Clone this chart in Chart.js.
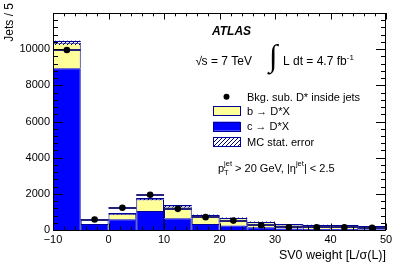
<!DOCTYPE html>
<html><head><meta charset="utf-8">
<script src="https://cdn.jsdelivr.net/npm/chart.js@4.4.1/dist/chart.umd.min.js"></script>
<style>html,body{margin:0;padding:0;background:#fff;}#wrap{width:407px;height:276px;}</style>
</head><body><div id="wrap"><canvas id="c" width="407" height="276"></canvas></div>
<script>
// ---- data ----
const binCenters = [-7.5, -2.5, 2.5, 7.5, 12.5, 17.5, 22.5, 27.5, 32.5, 37.5, 42.5, 47.5];
const binWidth = 5;
const cJets = [8950, 330, 600, 1050, 650, 330, 250, 150, 80, 60, 50, 45];      // c -> D*X
const bJets = [1400, 230, 300, 650, 650, 470, 400, 280, 220, 200, 180, 145];   // b -> D*X
const mcStatErr = [120, 40, 40, 50, 60, 50, 40, 35, 30, 30, 30, 30];
const dataPoints = [9950, 580, 1230, 1950, 1170, 710, 520, 265, 155, 155, 150, 120];
const dataErr = [150, 60, 70, 80, 70, 60, 50, 40, 35, 30, 30, 25];
const xTicks = [-10, 0, 10, 20, 30, 40, 50];
const yTicks = [0, 2000, 4000, 6000, 8000, 10000];
const xRange = [-10, 50];
const yRange = [0, 12000];

const FONT = '"Liberation Sans", Arial, Helvetica, sans-serif';
const NAVY = '#000099';
const YELLOW = '#ffff99';
const BLUE = '#0000ff';

function makeHatch(ctx) {
  const c = document.createElement('canvas'); c.width = 4; c.height = 4;
  const g = c.getContext('2d'); g.fillStyle = '#000080';
  for (let i = 0; i < 4; i++) g.fillRect(i, 3 - i, 1, 1);
  return ctx.createPattern(c, 'repeat');
}

function drawParts(ctx, parts, x, y) {
  let cx = x;
  let lastX = x;
  for (const p of parts) {
    ctx.font = (p.style || '') + ' ' + p.size + 'px ' + FONT;
    const px = p.same ? lastX : cx;
    ctx.fillText(p.t, px, y + (p.dy || 0));
    const w = ctx.measureText(p.t).width;
    if (!p.same) { lastX = cx; cx += w; } else { cx = Math.max(cx, px + w); }
  }
  return cx;
}

const histPlugin = {
  id: 'hist',
  afterDatasetDraw(chart, args) {
    if (args.index !== 0) return;
    const { ctx, chartArea: a, scales: { x, y } } = chart;
    ctx.save();
    ctx.beginPath(); ctx.rect(a.left, a.top, a.right - a.left, a.bottom - a.top); ctx.clip();
    const pat = makeHatch(ctx);
    binCenters.forEach((c, i) => {
      const x0 = x.getPixelForValue(c - binWidth / 2), x1 = x.getPixelForValue(c + binWidth / 2);
      const tot = cJets[i] + bJets[i];
      const yt = y.getPixelForValue(tot + mcStatErr[i]), yb = y.getPixelForValue(tot - mcStatErr[i]);
      ctx.fillStyle = pat; ctx.fillRect(x0, yt, x1 - x0, yb - yt);
      ctx.strokeStyle = NAVY; ctx.lineWidth = 1;
      ctx.beginPath(); ctx.moveTo(x0, Math.round(yt) + 0.5); ctx.lineTo(x1, Math.round(yt) + 0.5); ctx.stroke();
    });
    binCenters.forEach((c, i) => {
      const x0 = x.getPixelForValue(c - binWidth / 2), x1 = x.getPixelForValue(c + binWidth / 2);
      const yd = Math.round(y.getPixelForValue(dataPoints[i]));
      ctx.strokeStyle = '#22227a'; ctx.lineWidth = 2;
      ctx.beginPath(); ctx.moveTo(x0, yd); ctx.lineTo(x1, yd); ctx.stroke();
      const xc = Math.round(x.getPixelForValue(c)) + 0.5;
      ctx.strokeStyle = '#000'; ctx.lineWidth = 1;
      ctx.beginPath();
      ctx.moveTo(xc, y.getPixelForValue(dataPoints[i] - dataErr[i]));
      ctx.lineTo(xc, y.getPixelForValue(dataPoints[i] + dataErr[i]));
      ctx.stroke();
    });
    ctx.restore();
  },
  afterDraw(chart) {
    const { ctx, chartArea: a, scales: { x, y } } = chart;
    ctx.save();
    // frame
    ctx.strokeStyle = '#000'; ctx.lineWidth = 1;
    ctx.strokeRect(Math.round(a.left) + 0.5, Math.round(a.top) + 0.5,
      Math.round(a.right - a.left) - 1, Math.round(a.bottom - a.top));
    // ticks pointing inward on all four sides
    ctx.beginPath();
    for (let v = xRange[0]; v <= xRange[1]; v += 2) {
      const px = Math.round(x.getPixelForValue(v)) + 0.5;
      const len = (v % 10 === 0) ? 6.5 : 3.3;
      ctx.moveTo(px, a.bottom); ctx.lineTo(px, a.bottom - len);
      ctx.moveTo(px, a.top); ctx.lineTo(px, a.top + len);
    }
    for (let v = yRange[0]; v <= yRange[1]; v += 400) {
      const py = Math.round(y.getPixelForValue(v)) + 0.5;
      const len = (v % 2000 === 0) ? 10 : 5;
      ctx.moveTo(a.left, py); ctx.lineTo(a.left + len, py);
      ctx.moveTo(a.right, py); ctx.lineTo(a.right - len, py);
    }
    ctx.stroke();

    ctx.fillStyle = '#000';
    ctx.textBaseline = 'alphabetic'; ctx.textAlign = 'left';
    // axis titles
    ctx.font = '12.5px ' + FONT;
    ctx.textAlign = 'right';
    ctx.fillText('SV0 weight [L/\u03c3(L)]', 386, 259);
    ctx.font = '12px ' + FONT;
    ctx.save();
    ctx.translate(13, 3); ctx.rotate(-Math.PI / 2);
    ctx.fillText('Jets / 5', 0, 0);
    ctx.restore();
    ctx.textAlign = 'left';

    // ATLAS
    ctx.font = 'italic bold 12px ' + FONT;
    ctx.fillText('ATLAS', 212, 35);
    // sqrt s
    ctx.font = '12px ' + FONT;
    const rx = 195.5;
    ctx.fillText('\u221a', rx, 65);
    const wr = ctx.measureText('\u221a').width;
    ctx.fillText('s = 7 TeV', rx + wr - 0.5, 65);
    // integral
    ctx.font = '31px "Liberation Serif", "DejaVu Serif", serif';
    ctx.textBaseline = 'middle';
    ctx.fillText('\u222b', 269, 58);
    ctx.textBaseline = 'alphabetic';
    drawParts(ctx, [
      { t: 'L dt = 4.7 fb', size: 12 },
      { t: '-1', size: 8, dy: -5 }
    ], 283, 65);

    // legend
    const lx = 213, lw = 27, lh = 9, tx = 247;
    ctx.beginPath(); ctx.arc(226.5, 96.7, 3, 0, Math.PI * 2); ctx.fill();
    ctx.fillStyle = YELLOW; ctx.fillRect(lx, 106, lw, lh);
    ctx.fillStyle = BLUE; ctx.fillRect(lx, 121.7, lw, lh);
    ctx.fillStyle = makeHatch(ctx); ctx.fillRect(lx, 137.3, lw, lh);
    ctx.strokeStyle = NAVY; ctx.lineWidth = 1;
    ctx.strokeRect(lx + 0.5, 106.5, lw, lh);
    ctx.strokeRect(lx + 0.5, 122.5, lw, lh);
    ctx.strokeRect(lx + 0.5, 137.5, lw, lh);
    ctx.fillStyle = '#000';
    ctx.font = '11px ' + FONT;
    ctx.fillText('Bkg. sub. D* inside jets', tx, 100.5);
    ctx.fillText('b \u2192 D*X', tx, 114.5);
    ctx.fillText('c \u2192 D*X', tx, 130);
    ctx.fillText('MC stat. error', tx, 145.7);

    // kinematic cuts
    drawParts(ctx, [
      { t: 'p', size: 11 },
      { t: 'jet', size: 7.5, dy: -6 },
      { t: 'T', size: 7.5, dy: 3, same: true },
      { t: ' > 20 GeV, |\u03b7', size: 11 },
      { t: 'jet', size: 7.5, dy: -6 },
      { t: '| < 2.5', size: 11 }
    ], 218, 172);
    ctx.restore();
  }
};

const ctxEl = document.getElementById('c');
new Chart(ctxEl, {
  type: 'bar',
  data: {
    datasets: [
      {
        type: 'bar', label: 'c \u2192 D*X', stack: 'mc', order: 1,
        data: binCenters.map((c, i) => ({ x: c, y: cJets[i] })),
        backgroundColor: BLUE, borderColor: NAVY, borderWidth: 1,
        barPercentage: 1, categoryPercentage: 1, inflateAmount: 0
      },
      {
        type: 'bar', label: 'b \u2192 D*X', stack: 'mc', order: 2,
        data: binCenters.map((c, i) => ({ x: c, y: bJets[i] })),
        backgroundColor: bJets.map((_, i) => i === 1 ? '#ffffff' : YELLOW),
        borderColor: NAVY, borderWidth: 1,
        barPercentage: 1, categoryPercentage: 1, inflateAmount: 0
      },
      {
        type: 'scatter', label: 'Bkg. sub. D* inside jets', stack: 'data', order: 0,
        data: binCenters.map((c, i) => ({ x: c, y: dataPoints[i] })),
        pointRadius: 3.3, pointHoverRadius: 3.3, backgroundColor: '#000', borderWidth: 0, showLine: false
      }
    ]
  },
  options: {
    responsive: false, animation: false, devicePixelRatio: 1,
    layout: { padding: { left: 0, top: 13, right: 21, bottom: 0 } },
    plugins: { legend: { display: false }, tooltip: { enabled: false } },
    scales: {
      x: {
        type: 'linear', min: xRange[0], max: xRange[1], offset: false,
        grid: { display: false, drawTicks: false, offset: false },
        border: { display: false },
        afterBuildTicks: s => { s.ticks = xTicks.map(v => ({ value: v })); },
        afterFit: s => { s.height = 46; s.paddingLeft = 0; s.paddingRight = 0; },
        ticks: {
          padding: 3, color: '#000', maxRotation: 0, autoSkip: false,
          font: { family: FONT, size: 11 },
          callback: v => String(v).replace('-', '\u2212')
        }
      },
      y: {
        type: 'linear', min: yRange[0], max: yRange[1], stacked: true,
        grid: { display: false, drawTicks: false },
        border: { display: false },
        afterBuildTicks: s => { s.ticks = yTicks.map(v => ({ value: v })); },
        afterFit: s => { s.width = 53; s.paddingTop = 0; s.paddingBottom = 0; },
        ticks: {
          padding: 3, color: '#000', autoSkip: false,
          font: { family: FONT, size: 11 },
          callback: v => String(v)
        }
      }
    }
  },
  plugins: [histPlugin]
});
</script>
</body></html>
